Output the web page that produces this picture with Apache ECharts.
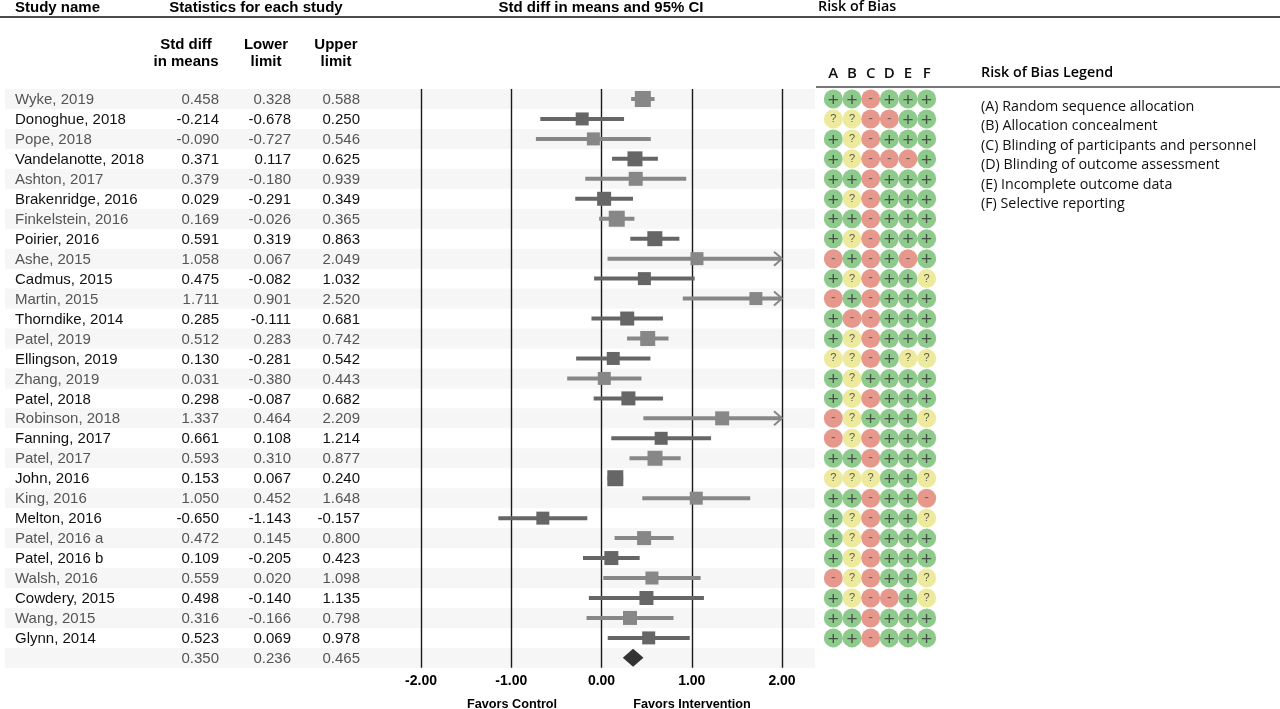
<!DOCTYPE html>
<html>
<head>
<meta charset="utf-8">
<title>Forest plot</title>
<script src="https://cdn.jsdelivr.net/npm/echarts@6/dist/echarts.min.js"></script>
<style>
    html, body { margin: 0; padding: 0; background: #fff; }
    #main { width: 1280px; height: 709px; }
</style>
</head>
<body>
<div id="main"></div>
<script>
// studies, top to bottom
var studies = ['Wyke, 2019', 'Donoghue, 2018', 'Pope, 2018', 'Vandelanotte, 2018', 'Ashton, 2017',
    'Brakenridge, 2016', 'Finkelstein, 2016', 'Poirier, 2016', 'Ashe, 2015', 'Cadmus, 2015',
    'Martin, 2015', 'Thorndike, 2014', 'Patel, 2019', 'Ellingson, 2019', 'Zhang, 2019',
    'Patel, 2018', 'Robinson, 2018', 'Fanning, 2017', 'Patel, 2017', 'John, 2016',
    'King, 2016', 'Melton, 2016', 'Patel, 2016 a', 'Patel, 2016 b', 'Walsh, 2016',
    'Cowdery, 2015', 'Wang, 2015', 'Glynn, 2014'];
var effect = [0.458, -0.214, -0.090, 0.371, 0.379, 0.029, 0.169, 0.591, 1.058, 0.475,
    1.711, 0.285, 0.512, 0.130, 0.031, 0.298, 1.337, 0.661, 0.593, 0.153,
    1.050, -0.650, 0.472, 0.109, 0.559, 0.498, 0.316, 0.523];
var lower = [0.328, -0.678, -0.727, 0.117, -0.180, -0.291, -0.026, 0.319, 0.067, -0.082,
    0.901, -0.111, 0.283, -0.281, -0.380, -0.087, 0.464, 0.108, 0.310, 0.067,
    0.452, -1.143, 0.145, -0.205, 0.020, -0.140, -0.166, 0.069];
var upper = [0.588, 0.250, 0.546, 0.625, 0.939, 0.349, 0.365, 0.863, 2.049, 1.032,
    2.520, 0.681, 0.742, 0.542, 0.443, 0.682, 2.209, 1.214, 0.877, 0.240,
    1.648, -0.157, 0.800, 0.423, 1.098, 1.135, 0.798, 0.978];
// relative weight
var weights = [5.5, 4, 4, 5, 4.5, 4.5, 5.5, 5, 4, 4,
    4, 4.5, 5, 4, 4, 4.5, 4.5, 4, 5, 5.5,
    4, 4, 4.5, 4.5, 4, 4.5, 4.5, 4];
// pooled estimate: effect, lower, upper
var pooled = [0.350, 0.236, 0.465];
// risk of bias, domains A-F ('+' low, '?' unclear, '-' high)
var riskOfBias = ['++-+++', '??--++', '+?-+++', '+?---+', '++-+++', '+?-+++', '++-+++',
    '+?-+++', '-+-+-+', '+?-++?', '-+-+++', '+--+++', '+?-+++', '??-+??',
    '+?++++', '+?-+++', '-?+++?', '-?-+++', '++-+++', '???++?', '++-++-',
    '+?-++?', '+?-+++', '+?-+++', '-?-++?', '+?--+?', '++-+++', '++-+++'];
var domains = ['A', 'B', 'C', 'D', 'E', 'F'];
var domainLegend = ['(A) Random sequence allocation', '(B) Allocation concealment',
    '(C) Blinding of participants and personnel', '(D) Blinding of outcome assessment',
    '(E) Incomplete outcome data', '(F) Selective reporting'];
var xMin = -2, xMax = 2;

var rows = studies.concat(['']);
var arial = '"Liberation Sans", Arial, sans-serif';
var myriad = '"Open Sans", "Noto Sans", sans-serif';

var top0 = 89, rowH = 19.96, plotH = rows.length * rowH;

var myChart = echarts.init(document.getElementById('main'));

// data rows for the series
var studyData = [];
for (var i = 0; i < studies.length; i++) {
    studyData.push([i, effect[i], lower[i], upper[i], weights[i]]);
}
var tableData = [];
for (var i = 0; i < rows.length; i++) {
    if (i < studies.length) tableData.push([0, i, studies[i], effect[i], lower[i], upper[i]]);
    else tableData.push([0, i, '', pooled[0], pooled[1], pooled[2]]);
}
var shadeData = [];
for (var i = 0; i < rows.length; i += 2) shadeData.push([0, i]);
var robData = [];
for (var i = 0; i < riskOfBias.length; i++) {
    for (var d = 0; d < domains.length; d++) {
        robData.push([d, i, riskOfBias[i].charAt(d)]);
    }
}
var robColor = {'+': '#70bd6e', '-': '#e07e6f', '?': '#e9e584'};

function txt(text, x, y, align, font, color) {
    return {type: 'text', x: x, y: y, silent: true,
        style: {text: text, x: 0, y: 0, textAlign: align, textVerticalAlign: 'middle',
            align: align, verticalAlign: 'middle', font: font, fill: color || '#000'}};
}

var graphics = [
    {type: 'line', shape: {x1: 0, y1: 17, x2: 1280, y2: 17}, style: {stroke: '#111', lineWidth: 1.5}},
    {type: 'line', shape: {x1: 816, y1: 87, x2: 1280, y2: 87}, style: {stroke: '#777', lineWidth: 2}},
    txt('Study name', 15, 8, 'left', 'bold 15px ' + arial),
    txt('Statistics for each study', 256, 8, 'center', 'bold 15px ' + arial),
    txt('Std diff in means and 95% CI', 601, 8, 'center', 'bold 15px ' + arial),
    txt('Risk of Bias', 818, 7, 'left', '600 14.3px ' + myriad),
    txt('Std diff', 186, 45, 'center', 'bold 15px ' + arial),
    txt('in means', 186, 62, 'center', 'bold 15px ' + arial),
    txt('Lower', 266, 45, 'center', 'bold 15px ' + arial),
    txt('limit', 266, 62, 'center', 'bold 15px ' + arial),
    txt('Upper', 336, 45, 'center', 'bold 15px ' + arial),
    txt('limit', 336, 62, 'center', 'bold 15px ' + arial),
    txt('Risk of Bias Legend', 981, 73, 'left', '600 14.3px ' + myriad),
    txt('Favors Control', 512, 704, 'center', 'bold 12.7px ' + arial),
    txt('Favors Intervention', 692, 704, 'center', 'bold 12.7px ' + arial)
];
for (var k = 0; k < domainLegend.length; k++) {
    graphics.push(txt(domainLegend[k], 981, 107 + k * 19.4, 'left', '14.3px ' + myriad, '#111'));
}

var option = {
    animation: false,
    backgroundColor: '#fff',
    graphic: graphics,
    grid: [
        {left: 5, top: top0, width: 810, height: plotH},      // shading + table
        {left: 421, top: top0, width: 361, height: plotH},    // forest plot
        {left: 824, top: top0, width: 112, height: plotH}     // risk of bias
    ],
    xAxis: [
        {gridIndex: 0, type: 'value', min: 0, max: 810, show: false},
        {gridIndex: 1, type: 'value', min: xMin, max: xMax, interval: 1, z: 3,
            axisLine: {show: false}, axisTick: {show: false},
            axisLabel: {margin: 6, fontFamily: arial, fontWeight: 'bold', fontSize: 14, color: '#000',
                formatter: function (v) { return v.toFixed(2); }},
            splitLine: {show: true, showMinLine: true, showMaxLine: true, lineStyle: {color: '#1a1a1a', width: 1.4}}},
        {gridIndex: 2, type: 'category', data: domains, position: 'top',
            axisLine: {show: false}, axisTick: {show: false},
            axisLabel: {margin: 8, fontFamily: myriad, fontWeight: 600, fontSize: 15, color: '#111'}}
    ],
    yAxis: [0, 1, 2].map(function (g) {
        return {gridIndex: g, type: 'category', data: rows, inverse: true, show: false};
    }),
    series: [
        {   // alternating row shading
            type: 'custom', xAxisIndex: 0, yAxisIndex: 0, z: -5, silent: true,
            data: shadeData,
            renderItem: function (params, api) {
                var p = api.coord([0, api.value(1)]);
                var h = api.size([0, 1])[1];
                return {type: 'rect', shape: {x: params.coordSys.x, y: p[1] - h / 2,
                    width: params.coordSys.width, height: h}, style: {fill: '#f6f6f6'}};
            }
        },
        {   // table text
            type: 'custom', xAxisIndex: 0, yAxisIndex: 0, z: 5, silent: true,
            data: tableData,
            renderItem: function (params, api) {
                var i = api.value(1);
                var d = tableData[params.dataIndex];
                var color = i % 2 === 0 ? '#555' : '#111';
                var font = '15px ' + arial;
                var y = api.coord([0, i])[1] + 1;
                function cell(text, col, align) {
                    return {type: 'text', x: api.coord([col, i])[0], y: y,
                        style: {text: text, textAlign: align, textVerticalAlign: 'middle',
                            align: align, verticalAlign: 'middle', font: font, fill: color}};
                }
                return {type: 'group', children: [
                    cell(d[2], 10, 'left'),
                    cell(d[3].toFixed(3), 214, 'right'),
                    cell(d[4].toFixed(3), 286, 'right'),
                    cell(d[5].toFixed(3), 355, 'right')
                ]};
            }
        },
        {   // study estimates with 95% CI
            type: 'custom', xAxisIndex: 1, yAxisIndex: 1, z: 5, silent: true,
            data: studyData,
            encode: {x: 1, y: 0},
            renderItem: function (params, api) {
                var i = api.value(0);
                var es = api.value(1), lo = api.value(2), hi = api.value(3), w = api.value(4);
                var pLo = api.coord([Math.max(lo, xMin), i]);
                var pHi = api.coord([Math.min(hi, xMax), i]);
                var pEs = api.coord([es, i]);
                var color = i % 2 === 0 ? '#878787' : '#666';
                var s = 5 + 2 * w;
                var kids = [
                    {type: 'line', shape: {x1: pLo[0], y1: pLo[1], x2: pHi[0], y2: pHi[1]},
                        style: {stroke: color, lineWidth: 4}},
                    {type: 'rect', shape: {x: pEs[0] - s / 2, y: pEs[1] - s / 2, width: s, height: s},
                        style: {fill: color}}
                ];
                if (hi > xMax) {
                    kids.push({type: 'polyline', shape: {points: [[pHi[0] - 8, pHi[1] - 7], [pHi[0], pHi[1]], [pHi[0] - 8, pHi[1] + 7]]},
                        style: {stroke: color, lineWidth: 2, fill: null}});
                }
                return {type: 'group', children: kids};
            }
        },
        {   // pooled estimate diamond
            type: 'custom', xAxisIndex: 1, yAxisIndex: 1, z: 5, silent: true,
            data: [[studies.length, pooled[0], pooled[1], pooled[2]]],
            encode: {x: 1, y: 0},
            renderItem: function (params, api) {
                var i = api.value(0);
                var c = api.coord([api.value(1), i]);
                var l = api.coord([api.value(2), i]);
                var r = api.coord([api.value(3), i]);
                return {type: 'polygon', shape: {points: [[l[0], c[1]], [c[0], c[1] - 9], [r[0], c[1]], [c[0], c[1] + 9]]},
                    style: {fill: '#333'}};
            }
        },
        {   // risk of bias
            type: 'scatter', xAxisIndex: 2, yAxisIndex: 2, z: 5, silent: true,
            symbol: 'circle', symbolSize: 19,
            data: robData,
            itemStyle: {color: function (p) { return robColor[p.data[2]]; }},
            label: {show: true, position: 'inside',
                formatter: function (p) {
                    var v = p.data[2];
                    return v === '+' ? '{p|+}' : (v === '-' ? '{m|-}' : '{q|?}');
                },
                rich: {
                    p: {fontFamily: arial, fontSize: 19, color: '#333', padding: [3, 0, 0, 0]},
                    m: {fontFamily: arial, fontSize: 14, color: '#555'},
                    q: {fontFamily: arial, fontSize: 11, color: '#333'}
                }
            }
        }
    ]
};
myChart.setOption(option);
</script>
</body>
</html>
